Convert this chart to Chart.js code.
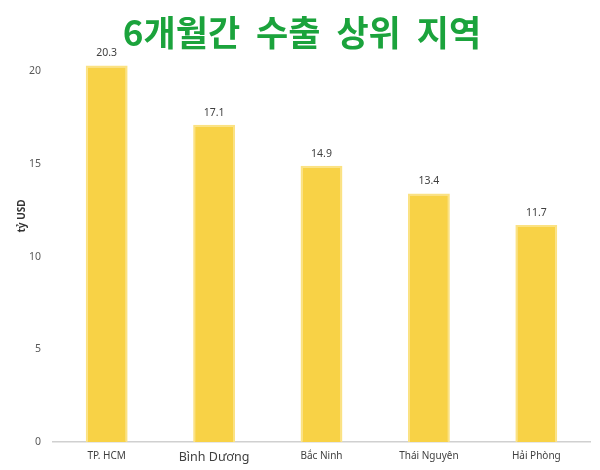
<!DOCTYPE html>
<html>
<head>
<meta charset="utf-8">
<script src="https://cdn.jsdelivr.net/npm/chart.js@4.4.1/dist/chart.umd.min.js"></script>
<style>
  html, body { margin: 0; padding: 0; background: #fff; }
  #wrap { width: 600px; height: 470px; position: relative; }
</style>
</head>
<body>
<div id="wrap"><canvas id="c"></canvas></div>
<script>
const titleText = '6개월간 수출 상위 지역';
const yAxisTitle = 'tỷ USD';
const categories = ['TP. HCM', 'Bình Dương', 'Bắc Ninh', 'Thái Nguyên', 'Hải Phòng'];
const exportValues = [20.3, 17.1, 14.9, 13.4, 11.7];
const yTicks = [0, 5, 10, 15, 20];

const valueLabels = {
  id: 'valueLabels',
  afterDatasetsDraw(chart) {
    const ctx = chart.ctx;
    const meta = chart.getDatasetMeta(0);
    ctx.save();
    ctx.font = '10.5px "Noto Sans", sans-serif';
    ctx.fillStyle = '#404040';
    ctx.textAlign = 'center';
    ctx.textBaseline = 'middle';
    meta.data.forEach((bar, i) => {
      ctx.fillText(exportValues[i].toFixed(1), bar.x, bar.y - 12);
    });
    ctx.restore();
  }
};

const headings = {
  id: 'headings',
  afterDraw(chart) {
    const ctx = chart.ctx;
    ctx.save();
    ctx.font = 'bold 35px "Noto Sans CJK KR", sans-serif';
    ctx.fillStyle = '#1BA33C';
    ctx.textAlign = 'center';
    ctx.textBaseline = 'middle';
    if ('wordSpacing' in ctx) ctx.wordSpacing = '8px';
    ctx.fillText(titleText, 302, 33);
    ctx.restore();

    ctx.save();
    ctx.font = 'bold 10px "Noto Sans", sans-serif';
    ctx.fillStyle = '#333333';
    ctx.textAlign = 'center';
    ctx.textBaseline = 'middle';
    ctx.translate(22, 216);
    ctx.rotate(-Math.PI / 2);
    ctx.fillText(yAxisTitle, 0, 0);
    ctx.restore();
  }
};

new Chart(document.getElementById('c'), {
  type: 'bar',
  data: {
    labels: categories,
    datasets: [{
      data: exportValues,
      backgroundColor: '#F8D246',
      borderColor: '#FBE283',
      borderWidth: 2,
      borderSkipped: 'bottom',
      barPercentage: 1,
      categoryPercentage: 0.39
    }]
  },
  options: {
    responsive: true,
    maintainAspectRatio: false,
    animation: false,
    layout: { padding: { left: 0, right: 10, top: 52.5, bottom: 0 } },
    plugins: {
      legend: { display: false },
      tooltip: { enabled: false },
      title: { display: false }
    },
    scales: {
      x: {
        grid: { display: false, drawTicks: false },
        border: { display: true, color: '#D0D0D0', width: 1.5 },
        ticks: {
          color: '#404040',
          padding: 8,
          maxRotation: 0,
          font: (ctx) => ctx.index === 1
            ? { family: '"Noto Sans", sans-serif', size: 12.5 }
            : { family: '"Noto Sans", sans-serif', size: 10 }
        },
        afterFit(scale) { scale.height = 28; }
      },
      y: {
        min: 0,
        max: 21,
        grid: { display: false, drawTicks: false },
        border: { display: false },
        ticks: {
          color: '#595959',
          padding: 12,
          font: { family: '"Noto Sans", sans-serif', size: 10.5 }
        },
        afterBuildTicks(scale) { scale.ticks = yTicks.map(v => ({ value: v })); },
        afterFit(scale) { scale.width = 53; }
      }
    }
  },
  plugins: [valueLabels, headings]
});
</script>
</body>
</html>
